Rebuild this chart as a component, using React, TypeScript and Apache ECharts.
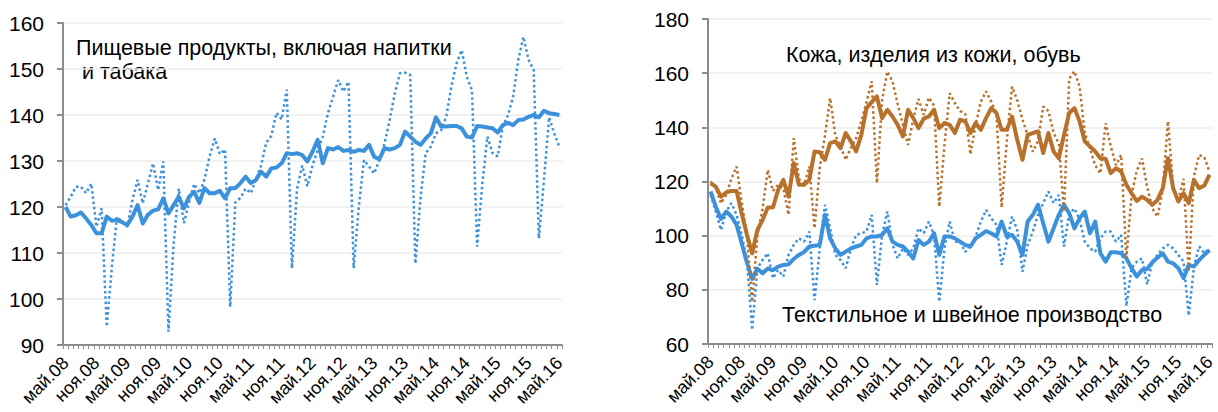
import React, { useEffect, useRef } from "react";
import * as echarts from "echarts";

const FONT = "'Liberation Sans', Arial, sans-serif";

const monthNames = ["янв", "фев", "мар", "апр", "май", "июн", "июл", "авг", "сен", "окт", "ноя", "дек"];
// May 2008 .. May 2016 (97 months)
const categories: string[] = [];
for (let k = 0; k < 97; k++) {
  const m = (4 + k) % 12;
  const y = 8 + Math.floor((4 + k) / 12);
  categories.push(`${monthNames[m]}.${String(y).padStart(2, "0")}`);
}

// Left panel: food products incl. beverages and tobacco
const foodSA = [
  120.0, 117.9, 118.2, 118.8, 117.5, 116.1, 114.3, 114.3, 117.9, 117.0,
  117.2, 116.7, 116.1, 117.9, 120.4, 116.4, 118.3, 119.2, 119.5, 121.9,
  118.6, 120.4, 122.2, 119.7, 122.2, 123.3, 120.9, 124.1, 123.0, 123.0,
  123.5, 121.9, 124.1, 124.1, 125.2, 126.6, 125.2, 125.9, 127.7, 126.6,
  128.4, 128.6, 129.5, 131.7, 131.5, 131.7, 131.3, 129.9, 132.0, 134.6,
  129.5, 132.8, 132.5, 133.0, 132.2, 132.4, 132.0, 132.4, 132.2, 133.5,
  130.9, 130.4, 132.8, 132.5, 132.8, 133.5, 136.4, 135.3, 134.2, 133.5,
  134.9, 136.0, 139.5, 137.5, 137.5, 137.6, 137.6, 137.1, 135.3, 135.1,
  137.6, 137.5, 137.3, 137.1, 136.2, 137.8, 138.3, 137.8, 138.9, 139.0,
  139.6, 140.0, 139.5, 140.9, 140.4, 140.2, 140.0,
];
const foodNSA = [
  120.4, 122.2, 124.4, 124.4, 123.0, 125.1, 115.7, 119.7, 94.0, 107.0,
  117.9, 116.8, 115.7, 121.5, 125.9, 120.8, 125.1, 129.5, 123.7, 129.9,
  92.9, 112.0, 124.0, 116.5, 121.0, 125.0, 123.0, 126.0, 131.0, 134.9,
  131.5, 132.5, 98.3, 121.0, 122.0, 124.0, 123.0, 126.0, 129.0, 134.0,
  135.5, 140.5, 139.0, 145.5, 106.7, 124.0, 129.0, 124.5, 129.0, 132.4,
  135.3, 140.4, 144.0, 147.6, 145.1, 147.2, 106.7, 120.0, 130.2, 128.8,
  127.3, 130.2, 133.8, 138.9, 144.7, 149.1, 149.2, 148.7, 107.7, 122.0,
  131.7, 133.1, 136.0, 136.7, 139.6, 146.2, 151.2, 154.1, 148.3, 145.4,
  111.4, 125.0, 135.3, 131.7, 131.0, 137.5, 140.0, 144.0, 152.0, 157.0,
  152.0, 149.8, 113.2, 126.0, 139.5, 136.0, 133.0,
];

// Right panel: leather, leather goods, footwear
const leatherSA = [
  119.4, 118.1, 114.4, 116.0, 116.5, 116.5, 108.0, 100.3, 93.5, 102.1,
  105.8, 110.4, 110.4, 116.9, 120.6, 114.4, 126.8, 118.8, 118.8, 120.6,
  131.1, 130.8, 128.0, 134.2, 134.8, 132.3, 137.9, 134.8, 131.1, 137.2,
  147.1, 149.3, 151.4, 143.4, 146.5, 144.0, 140.9, 136.6, 146.5, 143.4,
  139.7, 143.2, 144.0, 146.5, 139.7, 141.6, 140.9, 137.9, 142.8, 142.2,
  137.9, 141.6, 139.1, 143.4, 147.1, 145.3, 139.1, 139.1, 144.0, 135.4,
  128.0, 137.2, 137.9, 138.5, 130.5, 137.9, 131.1, 128.6, 137.2, 145.3,
  147.1, 142.2, 134.8, 132.9, 131.1, 128.6, 128.4, 123.1, 124.9, 123.7,
  118.8, 115.7, 112.8, 114.4, 113.2, 111.4, 113.2, 117.5, 128.6, 117.5,
  112.6, 115.7, 112.0, 120.6, 117.5, 118.5, 122.5,
];
const leatherNSA = [
  120.0, 117.5, 112.0, 115.0, 121.0, 125.5, 112.0, 100.0, 75.6, 100.0,
  110.0, 124.3, 116.5, 118.8, 117.5, 107.7, 136.0, 121.0, 118.8, 125.5,
  102.7, 125.0, 137.0, 150.8, 137.0, 133.0, 128.0, 132.5, 136.0, 142.2,
  149.3, 157.0, 119.4, 150.0, 160.6, 157.0, 148.5, 141.0, 133.5, 143.0,
  150.5, 144.6, 151.0, 148.0, 110.7, 133.5, 152.6, 149.0, 146.0, 145.0,
  130.0, 141.0, 149.5, 153.3, 149.5, 145.0, 110.4, 135.0, 155.0, 150.0,
  143.0, 137.0, 131.0, 135.0, 147.7, 146.0, 138.0, 134.0, 108.9, 158.0,
  160.7, 155.0, 138.0, 132.0, 126.0, 123.0, 141.5, 133.0, 126.0, 129.8,
  91.6, 115.0, 124.0, 128.5, 118.0, 110.0, 107.0, 117.0, 142.2, 118.0,
  113.0, 121.0, 86.7, 122.0, 129.8, 129.0, 123.5,
];

// Right panel: textile and clothing
const textileSA = [
  116.3, 110.7, 106.2, 108.9, 107.1, 104.0, 97.0, 90.0, 84.0, 87.8,
  86.1, 87.9, 87.3, 88.6, 89.2, 89.4, 91.4, 92.9, 94.0, 96.0,
  96.3, 96.6, 107.7, 99.0, 95.3, 92.9, 94.1, 95.3, 96.0, 96.6,
  99.0, 99.7, 99.7, 100.3, 102.7, 97.8, 96.6, 96.0, 94.1, 91.6,
  98.4, 96.6, 97.8, 100.9, 92.9, 99.7, 99.7, 99.0, 97.8, 96.6,
  96.0, 99.0, 100.3, 101.7, 100.9, 99.7, 105.2, 99.7, 100.3, 97.8,
  92.9, 105.2, 107.7, 111.4, 104.6, 97.8, 102.7, 107.7, 111.4, 108.3,
  102.7, 106.4, 108.9, 100.9, 105.2, 93.5, 90.4, 93.9, 93.9, 93.5,
  91.6, 88.0, 84.9, 87.3, 87.7, 90.2, 91.9, 93.5, 90.4, 89.8,
  88.0, 84.3, 89.2, 88.6, 91.0, 92.9, 94.7,
];
const textileNSA = [
  115.0, 108.9, 102.1, 108.9, 112.0, 107.7, 100.3, 90.4, 65.2, 88.0,
  91.0, 93.5, 84.3, 87.3, 84.9, 92.9, 96.6, 99.0, 97.8, 101.5,
  76.2, 95.3, 111.4, 102.7, 92.9, 91.0, 88.0, 95.3, 100.3, 100.9,
  101.5, 107.7, 81.8, 100.3, 108.9, 96.6, 91.6, 95.3, 92.9, 95.3,
  102.7, 100.9, 105.2, 100.3, 75.6, 95.3, 105.2, 97.8, 97.8, 94.0,
  96.0, 99.7, 105.2, 109.5, 106.4, 104.0, 89.2, 97.8, 107.1, 102.1,
  86.7, 96.6, 101.5, 107.7, 112.0, 116.3, 112.0, 115.0, 96.0, 108.0,
  110.0, 106.0, 97.8, 95.3, 94.1, 99.0, 101.5, 101.5, 97.8, 100.3,
  74.0, 88.0, 90.4, 91.6, 82.0, 90.4, 92.9, 95.3, 96.6, 95.3,
  92.9, 90.4, 70.5, 88.5, 96.0, 93.5, 95.3,
];

const BLUE = "#3C91DC";
const BROWN = "#B8712A";
const AXIS = "#8c8c8c";
const GRID = "#ececec";

function xAxisFor(gridIndex: number) {
  return {
    type: "category",
    gridIndex,
    data: categories,
    boundaryGap: true,
    axisLine: { show: true, lineStyle: { color: AXIS, width: 2 } },
    axisTick: { show: true, interval: 0, length: 4, lineStyle: { color: AXIS, width: 1 } },
    axisLabel: { interval: 5, rotate: 45, margin: 15, fontSize: 18, color: "#000", fontFamily: FONT },
    splitLine: { show: false },
  };
}

function yAxisFor(gridIndex: number, min: number, max: number, interval: number) {
  return {
    type: "value",
    gridIndex,
    min,
    max,
    interval,
    axisLine: { show: true, lineStyle: { color: AXIS, width: 2 } },
    axisTick: { show: true, length: 6, lineStyle: { color: AXIS, width: 2 } },
    axisLabel: { margin: 19, fontSize: 21, color: "#000", fontFamily: FONT },
    splitLine: { show: true, lineStyle: { color: GRID, width: 1.5 } },
  };
}

function solid(data: number[], color: string, axis: number) {
  return {
    type: "line",
    data,
    xAxisIndex: axis,
    yAxisIndex: axis,
    symbol: "none",
    lineStyle: { color, width: 4, join: "round" },
    itemStyle: { color },
  };
}

function dotted(data: number[], color: string, axis: number) {
  return {
    type: "line",
    data,
    xAxisIndex: axis,
    yAxisIndex: axis,
    symbol: "none",
    lineStyle: { color, width: 2.5, type: [2.5, 2.8] },
    itemStyle: { color },
  };
}

export default function App() {
  const ref = useRef<HTMLDivElement>(null);
  useEffect(() => {
    if (!ref.current) return;
    const chart = echarts.init(ref.current, undefined, { renderer: "svg" });
    chart.setOption({
      animation: false,
      backgroundColor: "#ffffff",
      textStyle: { fontFamily: FONT },
      grid: [
        { left: 63, top: 23, width: 499, height: 322 },
        { left: 708, top: 19, width: 507, height: 325 },
      ],
      xAxis: [xAxisFor(0), xAxisFor(1)],
      yAxis: [yAxisFor(0, 90, 160, 10), yAxisFor(1, 60, 180, 20)],
      series: [
        dotted(foodNSA, BLUE, 0),
        solid(foodSA, BLUE, 0),
        dotted(textileNSA, BLUE, 1),
        solid(textileSA, BLUE, 1),
        dotted(leatherNSA, BROWN, 1),
        solid(leatherSA, BROWN, 1),
      ],
      graphic: [
        {
          type: "text",
          left: 76,
          top: 36,
          style: {
            text: "Пищевые продукты, включая напитки\n и табака",
            fontSize: 21.5,
            lineHeight: 24,
            fill: "#000",
            fontFamily: FONT,
          },
        },
        {
          type: "text",
          left: 786,
          top: 42,
          style: { text: "Кожа, изделия из кожи, обувь", fontSize: 21.5, lineHeight: 26, fill: "#000", fontFamily: FONT },
        },
        {
          type: "text",
          left: 782,
          top: 302,
          style: { text: "Текстильное и швейное производство", fontSize: 21.5, lineHeight: 26, fill: "#000", fontFamily: FONT },
        },
      ],
    });
    return () => chart.dispose();
  }, []);
  return (
    <div
      ref={ref}
      style={{ position: "fixed", left: 0, top: 0, width: 1218, height: 412, background: "#fff" }}
    />
  );
}
